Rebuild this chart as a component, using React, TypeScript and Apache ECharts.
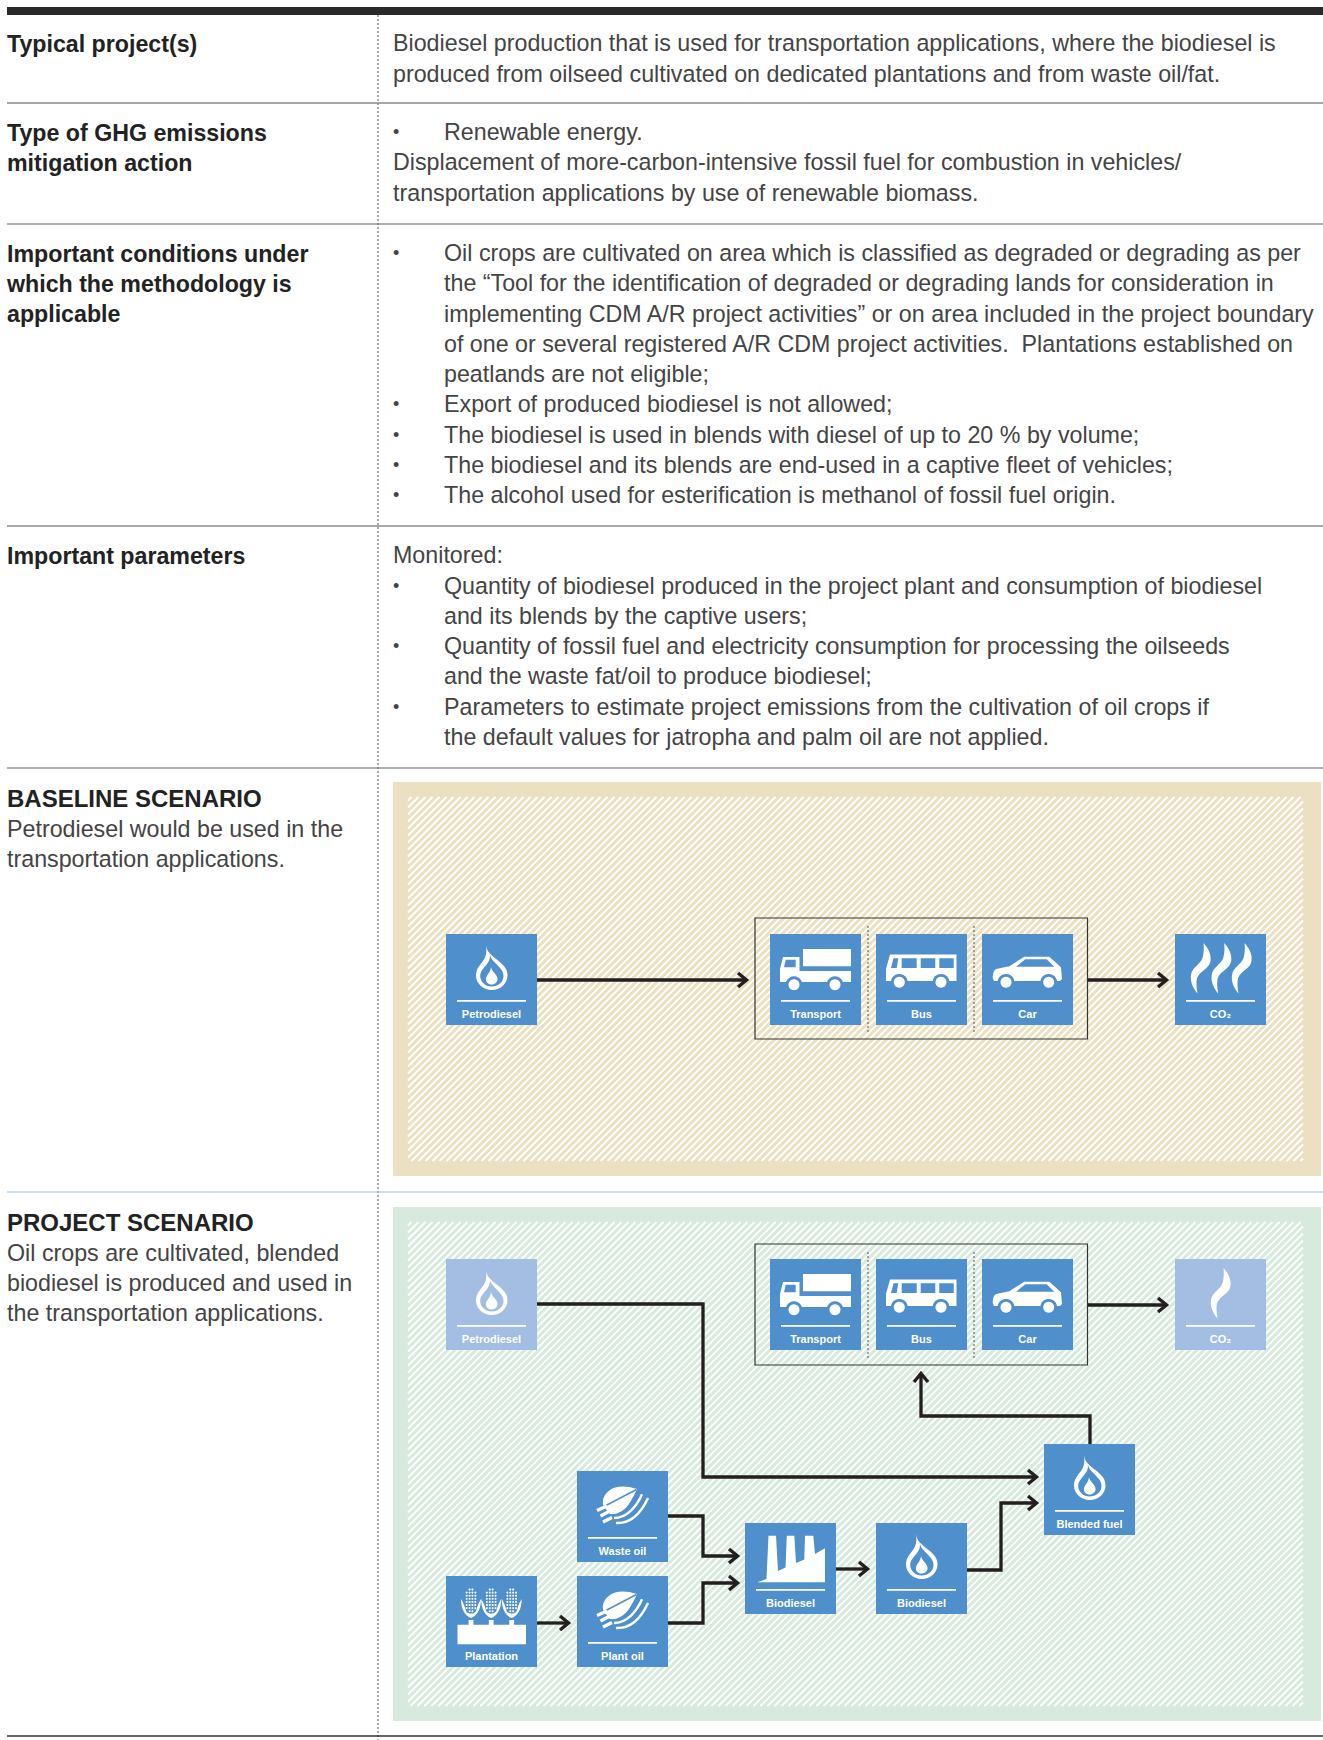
import React, { useEffect, useRef } from "react";
import * as echarts from "echarts";

const typicalProjectLabel = ["Typical project(s)"];
const typicalProjectText = [
  "Biodiesel production that is used for transportation applications, where the biodiesel is",
  "produced from oilseed cultivated on dedicated plantations and from waste oil/fat.",
];
const mitigationLabel = ["Type of GHG emissions", "mitigation action"];
const mitigationBullet = ["Renewable energy."];
const mitigationText = [
  "Displacement of more-carbon-intensive fossil fuel for combustion in vehicles/",
  "transportation applications by use of renewable biomass.",
];
const conditionsLabel = ["Important conditions under", "which the methodology is", "applicable"];
const conditionsText = [
  ["Oil crops are cultivated on area which is classified as degraded or degrading as per", true],
  ["the “Tool for the identification of degraded or degrading lands for consideration in", false],
  ["implementing CDM A/R project activities” or on area included in the project boundary", false],
  ["of one or several registered A/R CDM project activities.  Plantations established on", false],
  ["peatlands are not eligible;", false],
  ["Export of produced biodiesel is not allowed;", true],
  ["The biodiesel is used in blends with diesel of up to 20 % by volume;", true],
  ["The biodiesel and its blends are end-used in a captive fleet of vehicles;", true],
  ["The alcohol used for esterification is methanol of fossil fuel origin.", true],
] as [string, boolean][];
const parametersLabel = ["Important parameters"];
const parametersIntro = ["Monitored:"];
const parametersText = [
  ["Quantity of biodiesel produced in the project plant and consumption of biodiesel", true],
  ["and its blends by the captive users;", false],
  ["Quantity of fossil fuel and electricity consumption for processing the oilseeds", true],
  ["and the waste fat/oil to produce biodiesel;", false],
  ["Parameters to estimate project emissions from the cultivation of oil crops if", true],
  ["the default values for jatropha and palm oil are not applied.", false],
] as [string, boolean][];
const baselineHeading = "BASELINE SCENARIO";
const baselineText = ["Petrodiesel would be used in the", "transportation applications."];
const projectHeading = "PROJECT SCENARIO";
const projectText = ["Oil crops are cultivated, blended", "biodiesel is produced and used in", "the transportation applications."];

const FONT = '"Liberation Sans", Arial, sans-serif';
const BLUE = "#4F8FCC";
const PALE = "#A3BDE3";
const BEIGE = "#EBE0C2";
const GREEN = "#D7EADD";
const INK = "#231F20";
const BODY = "#444444";

const paths: Record<string, string> = {
  flameOuter: "M40 11.5 C41 20 50 24 56 30 C60 34 61.5 37 61.5 41.5 C61.5 50 54 56 45.7 56 C37 56 30 49.5 30 41.5 C30 35 34 31 37 27 C40 23 41 18 40 11.5 Z",
  flameInner: "M44 21 C45 26 50 29 54 34 C56.5 37 57.5 39 57.5 42 C57.5 48 52 52.5 45.7 52.5 C39 52.5 34.2 47.5 34.2 42 C34.2 37 38 34 41 30 C43 27.5 44 25 44 21 Z",
  flameCore: "M45 33 C45.5 37.5 51 40 51.5 44.5 C52 48 49 50.5 45.5 50.5 C42 50.5 39.5 48 40 44.5 C40.5 41 44.5 38.5 45 33 Z",
  truckCargo: "M33 15 L81 15 L81 32.3 L33 32.3 Z",
  truckBody: "M13 23 L29.5 23 L29.5 37 L81 37 L81 48 L10 48 L10 35 Z",
  truckWindow: "M15.7 25.7 L25.7 25.7 L25.7 33.3 L14 33.3 Z",
  busBody: "M14 20.5 L80.5 20.5 L80.5 47 L10 47 L10 35 Z",
  busWindows: "M17.5 24.3 L22.3 24.3 L20.7 34 L15 34 Z M25.7 24.3 L40.7 24.3 L40.7 34 L25.7 34 Z M44.7 24.3 L59.3 24.3 L59.3 34 L44.7 34 Z M63.3 24.3 L77.7 24.3 L77.7 34 L63.3 34 Z",
  carBody: "M10.7 44 C10.7 39 12 36 14 35 L27.3 32.3 L42.3 22.7 L67.3 22.7 L79 33.3 L80 45 L78 47 L12 47 Z",
  carWindow: "M34 32.7 L43.3 25.3 L64.7 25.3 L72.3 32.7 Z",
  wisp: "M28.5 9 C33 14 36.5 20 35.5 27 C34 35 26 36 22 44 C21 49 21.5 54 22.5 59.5 C18 54 15 48 16 41 C17 33 25 31 27.5 24 C29 19 29 14 28.5 9 Z",
  leaf: "M60 18 C48 14 38 15 33 19 C27 23 24 30 27 36 L33 43 C40 44 47 40 52 33 C55 28 58 23 60 18 Z",
  leafRib: "M59.5 18.5 L26 36",
  leafStem: "M20 39.5 L30 35 M23.5 45 L33 40 M26 51 L35 46.5",
  leafCurves: "M65 23.3 C60 35 50 47 37 47 M71 27 C65 40 55 53 39 52",
  husk: "M-10 23 C-10 33 -6 40 0 42 C6 40 10 33 10 23 C7 27 6 32 5 35 C4 37 2 37.5 0 37.5 C-2 37.5 -4 37 -5 35 C-6 32 -7 27 -10 23 Z",
  factory: "M12.3 59.3 L21.5 56 L23.5 12.7 L31 12.7 L33 48 L40.5 44.5 L41.8 12.7 L49.3 12.7 L51 40 L59.3 36.5 L60 12.7 L68.3 12.7 L70 31 L80 25.3 L80 59.3 Z",
};
Object.entries(paths).forEach(([k, d]) => echarts.graphic.registerShape(k, echarts.graphic.extendPath(d, {})));

echarts.graphic.registerShape(
  "stripes",
  echarts.graphic.extendShape({
    type: "stripes",
    shape: { x: 0, y: 0, w: 0, h: 0, step: 6 },
    buildPath(ctx: any, s: any) {
      const total = s.w + s.h;
      for (let c = s.step / 2; c < total; c += s.step) {
        const x1 = Math.max(0, c - s.h);
        const y1 = Math.min(s.h, c);
        const x2 = Math.min(s.w, c);
        const y2 = Math.max(0, c - s.w);
        ctx.moveTo(s.x + x1, s.y + y1);
        ctx.lineTo(s.x + x2, s.y + y2);
      }
    },
  }) as any,
);

const txt = (text: string, x: number, y: number, fontSize: number, weight: string | number, fill: string, align = "left") => ({
  type: "text",
  silent: true,
  style: { text, x, y, fill, font: `${weight} ${fontSize}px ${FONT}`, align, verticalAlign: "middle", textAlign: align, textVerticalAlign: "middle" },
});
const ln = (x1: number, y1: number, x2: number, y2: number, stroke: string, lineWidth: number, lineDash?: number[]) => ({
  type: "line",
  silent: true,
  shape: { x1, y1, x2, y2 },
  style: { stroke, lineWidth, lineDash },
});
const rect = (x: number, y: number, width: number, height: number, style: any) => ({ type: "rect", silent: true, shape: { x, y, width, height }, style });
const sh = (type: string, fill: string, x = 0, y = 0) => ({ type, silent: true, x, y, style: { fill } });
const strokeSh = (type: string, stroke: string, lineWidth: number) => ({ type, silent: true, style: { fill: "none", stroke, lineWidth } });
const circ = (cx: number, cy: number, r: number, fill: string) => ({ type: "circle", silent: true, shape: { cx, cy, r }, style: { fill } });

const wheels = (a: number, b: number, y: number, bg: string, r = 5.5) => [
  circ(a, y, 8.4, bg), circ(a, y, r, "#fff"), circ(b, y, 8.4, bg), circ(b, y, r, "#fff"),
];

const flameIcon = (bg: string) => [sh("flameOuter", "#fff"), sh("flameInner", bg), sh("flameCore", "#fff")];
const truckIcon = (bg: string) => [sh("truckCargo", "#fff"), sh("truckBody", "#fff"), sh("truckWindow", bg), ...wheels(24, 65, 50.7, bg)];
const busIcon = (bg: string) => [sh("busBody", "#fff"), sh("busWindows", bg), ...wheels(23.3, 65, 48.3, bg)];
const carIcon = (bg: string) => [sh("carBody", "#fff"), sh("carWindow", bg), ...wheels(24, 66.7, 48.3, bg)];
const wispsIcon = () => [sh("wisp", "#fff"), sh("wisp", "#fff", 20.7, 0), sh("wisp", "#fff", 41, 0)];
const wispIcon = () => [sh("wisp", "#fff", 20, 0)];
const leafIcon = (bg: string) => [
  strokeSh("leafCurves", "#fff", 2.4),
  sh("leaf", "#fff"),
  strokeSh("leafRib", bg, 1.5),
  strokeSh("leafStem", "#fff", 3.4),
];
const factoryIcon = () => [sh("factory", "#fff")];
const cornIcon = (bg: string) => {
  const out: any[] = [];
  [25, 45.2, 65.7].forEach((cx) => {
    [[13.5, 2], [16.6, 4], [19.7, 4], [22.8, 4], [25.9, 4], [29, 4], [32.1, 4], [35.2, 2]].forEach(([y, n]) => {
      for (let i = 0; i < n; i++) out.push(circ(cx + (i - (n - 1) / 2) * 2.9, y, 1.05, "#fff"));
    });
    out.push(sh("husk", "#fff", cx, 0));
    out.push(rect(cx - 2.4, 44, 4.8, 5, { fill: "#fff" }));
  });
  out.push(rect(11.5, 48.7, 68.5, 19.6, { fill: "#fff" }));
  return out;
};

const tile = (x: number, y: number, label: string, icon: any[], bg = BLUE, underline = true) => ({
  type: "group",
  silent: true,
  x,
  y,
  children: [
    rect(0, 0, 91, 91, { fill: bg }),
    ...icon,
    ...(underline ? [rect(11, 65.9, 69, 1.9, { fill: "#fff" })] : []),
    txt(label, 45.5, 80.4, 11, "bold", "#fff", "center"),
  ],
});

const arrow = (pts: number[][]) => {
  const [tx, ty] = pts[pts.length - 1];
  const [px, py] = pts[pts.length - 2];
  const dx = Math.sign(tx - px);
  const dy = Math.sign(ty - py);
  const head = [
    [tx - dx * 10 + dy * 7, ty - dy * 10 + dx * 7],
    [tx - dx * 1.5, ty - dy * 1.5],
    [tx - dx * 10 - dy * 7, ty - dy * 10 - dx * 7],
  ];
  const body = pts.map((p, i) => (i === pts.length - 1 ? [p[0] - dx * 3, p[1] - dy * 3] : p));
  return [
    { type: "polyline", silent: true, shape: { points: body }, style: { stroke: INK, lineWidth: 3.3, fill: "none", lineJoin: "miter" } },
    { type: "polyline", silent: true, shape: { points: head }, style: { stroke: INK, lineWidth: 3.4, fill: "none", lineJoin: "miter" } },
  ];
};

const panel = (x: number, y: number, w: number, h: number, color: string) => [
  rect(x, y, w, h, { fill: color }),
  { type: "stripes", silent: true, shape: { x: x + 15, y: y + 15, w: w - 33, h: h - 30, step: 7 }, style: { stroke: "#fff", lineWidth: 1.9, fill: "none" } },
];

const vehicleBox = (y: number) => [
  rect(755, y, 332.5, 121, { fill: "none", stroke: "#333", lineWidth: 1.2 }),
  ln(868, y + 8, 868, y + 114, "#555", 1, [2, 2]),
  ln(974, y + 8, 974, y + 114, "#555", 1, [2, 2]),
];

const BODY_SIZE = 23.25;
const HEAD_SIZE = 23.2;
const CAPS_SIZE = 24;
const bodyLine = (text: string, x: number, y: number) => txt(text, x, y, BODY_SIZE, 300, BODY);
const headLine = (text: string, y: number) => txt(text, 7, y, HEAD_SIZE, "bold", "#222");
const capsLine = (text: string, y: number) => txt(text, 7, y, CAPS_SIZE, "bold", "#222");
const BULLET_X = 393;
const INDENT_X = 444;
const bullets = (rows: [string, boolean][], ys: number[]) =>
  rows.flatMap(([t, b], i) => [
    ...(b ? [txt("•", BULLET_X, ys[i], 18, 300, BODY)] : []),
    bodyLine(t, INDENT_X, ys[i]),
  ]);

const buildGraphic = () => [
  rect(0, 0, 1323, 1740, { fill: "#fff" }),
  rect(7, 7, 1316, 8, { fill: "#2a2a2a" }),
  ln(378, 15, 378, 1740, "#555", 1, [2, 2]),
  ln(7, 103, 1323, 103, "#888", 1.4),
  ln(7, 224, 1323, 224, "#666", 1.2),
  ln(7, 526, 1323, 526, "#555", 1.2),
  ln(7, 768, 1323, 768, "#666", 1.2),
  ln(7, 1192, 1323, 1192, "#9DBFDC", 1.2),
  ln(7, 1736, 1323, 1736, "#333", 1.4),

  ...typicalProjectLabel.map((t, i) => headLine(t, 44 + i * 30)),
  ...typicalProjectText.map((t, i) => bodyLine(t, 393, 43 + i * 31)),
  ...mitigationLabel.map((t, i) => headLine(t, 133 + i * 30)),
  ...bullets(mitigationBullet.map((t) => [t, true] as [string, boolean]), [132]),
  ...mitigationText.map((t, i) => bodyLine(t, 393, 162 + i * 30.5)),
  ...conditionsLabel.map((t, i) => headLine(t, 254 + i * 30)),
  ...bullets(conditionsText, [253, 283, 313.5, 344, 374, 404, 434.5, 465, 495]),
  ...parametersLabel.map((t, i) => headLine(t, 556 + i * 30)),
  ...parametersIntro.map((t) => bodyLine(t, 393, 555)),
  ...bullets(parametersText, [586, 616, 646, 676, 707, 737]),

  capsLine(baselineHeading, 798),
  ...baselineText.map((t, i) => bodyLine(t, 7, 829 + i * 30.4)),
  capsLine(projectHeading, 1222),
  ...projectText.map((t, i) => bodyLine(t, 7, 1252.5 + i * 30.4)),

  ...panel(393, 782, 928, 394, BEIGE),
  ...vehicleBox(918),
  tile(446, 934, "Petrodiesel", flameIcon(BLUE)),
  tile(770, 934, "Transport", truckIcon(BLUE)),
  tile(876, 934, "Bus", busIcon(BLUE)),
  tile(982, 934, "Car", carIcon(BLUE)),
  tile(1175, 934, "CO₂", wispsIcon()),
  ...arrow([[537, 980], [748, 980]]),
  ...arrow([[1088, 980], [1168, 980]]),

  ...panel(393, 1207, 928, 514, GREEN),
  ...vehicleBox(1244),
  tile(446, 1259, "Petrodiesel", flameIcon(PALE), PALE),
  tile(770, 1259, "Transport", truckIcon(BLUE)),
  tile(876, 1259, "Bus", busIcon(BLUE)),
  tile(982, 1259, "Car", carIcon(BLUE)),
  tile(1175, 1259, "CO₂", wispIcon(), PALE),
  ...arrow([[537, 1304], [703, 1304], [703, 1477], [1038, 1477]]),
  ...arrow([[1088, 1305], [1168, 1305]]),
  ...arrow([[1090, 1444], [1090, 1416], [921, 1416], [921, 1372]]),
  ...arrow([[668, 1516], [703, 1516], [703, 1556], [739, 1556]]),
  ...arrow([[668, 1623], [703, 1623], [703, 1583], [739, 1583]]),
  ...arrow([[537, 1623], [570, 1623]]),
  ...arrow([[836, 1569], [869, 1569]]),
  ...arrow([[967, 1570], [1001, 1570], [1001, 1503], [1038, 1503]]),
  tile(577, 1471, "Waste oil", leafIcon(BLUE)),
  tile(577, 1576, "Plant oil", leafIcon(BLUE)),
  tile(446, 1576, "Plantation", cornIcon(BLUE), BLUE, false),
  tile(745, 1523, "Biodiesel", factoryIcon()),
  tile(876, 1523, "Biodiesel", flameIcon(BLUE)),
  tile(1044, 1444, "Blended fuel", flameIcon(BLUE)),
];

export default function App() {
  const ref = useRef<HTMLDivElement>(null);
  useEffect(() => {
    const chart = echarts.init(ref.current!, undefined, { renderer: "svg" });
    chart.setOption({ animation: false, graphic: { elements: buildGraphic() } });
    return () => chart.dispose();
  }, []);
  return <div ref={ref} style={{ position: "absolute", left: 0, top: 0, width: 1323, height: 1740 }} />;
}
